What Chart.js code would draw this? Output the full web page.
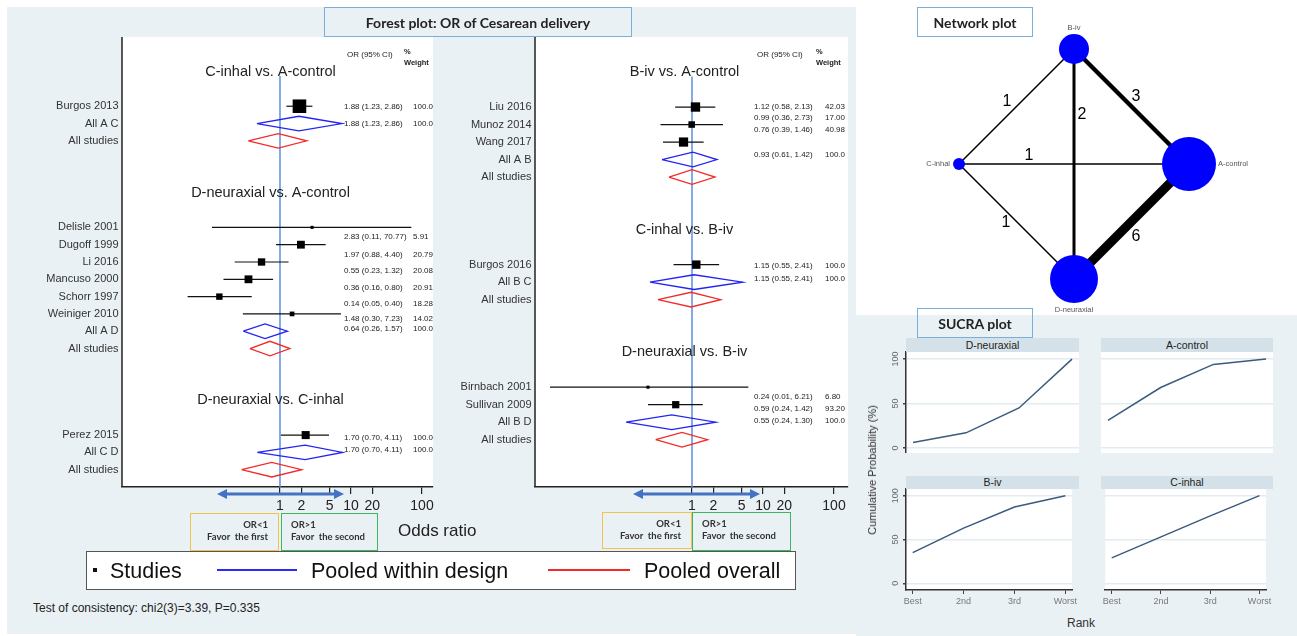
<!DOCTYPE html>
<html>
<head>
<meta charset="utf-8">
<script src="https://cdn.jsdelivr.net/npm/chart.js@4.4.1/dist/chart.umd.min.js"></script>
<style>
  body { margin: 0; width: 1297px; height: 636px; position: relative; overflow: hidden; background: #fff;
         font-family: 'Liberation Sans', Arial, sans-serif; color: #222; }
  .abs { position: absolute; }
  .bg { background: #eaf1f4; }
  .hbox { position: absolute; box-sizing: border-box; border: 1.5px solid #7aafdc; font-family: Lato, sans-serif;
          font-weight: bold; font-size: 14px; color: #222; display: flex; align-items: center; justify-content: center; }
  .favor { position: absolute; box-sizing: border-box; font-family: Lato, sans-serif; font-weight: bold;
           font-size: 9.5px; line-height: 12px; color: #333; padding-top: 5px; white-space: nowrap; }
  .first { border: 1.5px solid #f2c24e; text-align: right; padding-right: 10px; }
  .second { border: 1.5px solid #3db45f; text-align: left; padding-left: 9px; }
  .legtxt { position: absolute; font-size: 21.5px; line-height: 24px; color: #111; white-space: nowrap; }
  .strip { position: absolute; background: #d5e1e8; font-size: 10.5px; color: #222; text-align: center; }
  canvas { position: absolute; }
</style>
</head>
<body>
<div class="abs bg" style="left:7px;top:7px;width:849px;height:627px"></div>
<div class="abs bg" style="left:856px;top:315px;width:441px;height:321px"></div>

<canvas id="forestL" width="440" height="525" style="left:0;top:0"></canvas>
<canvas id="forestR" width="415" height="525" style="left:440px;top:0"></canvas>
<canvas id="network" width="438" height="309" style="left:855px;top:5px"></canvas>
<canvas id="sucra1" width="203" height="113" style="left:876px;top:340px"></canvas>
<canvas id="sucra2" width="172" height="113" style="left:1101px;top:340px"></canvas>
<canvas id="sucra3" width="203" height="133" style="left:876px;top:477px"></canvas>
<canvas id="sucra4" width="172" height="133" style="left:1101px;top:477px"></canvas>

<div class="hbox" style="left:324px;top:7px;width:308px;height:30px">Forest plot: OR of Cesarean delivery</div>
<div class="hbox" style="left:917px;top:7px;width:116px;height:30px">Network plot</div>
<div class="hbox" style="left:917px;top:308px;width:116px;height:30px">SUCRA plot</div>

<div class="favor first" style="left:190px;top:513px;width:89px;height:38px">OR&lt;1<br>Favor&nbsp; the first</div>
<div class="favor second" style="left:281px;top:513px;width:97px;height:38px">OR&gt;1<br>Favor&nbsp; the second</div>
<div class="favor first" style="left:602px;top:512px;width:90px;height:37px">OR&lt;1<br>Favor&nbsp; the first</div>
<div class="favor second" style="left:692px;top:512px;width:99px;height:39px">OR&gt;1<br>Favor&nbsp; the second</div>
<div class="abs" style="left:398px;top:521px;font-size:17px;white-space:nowrap">Odds ratio</div>

<div class="abs" style="left:86px;top:551px;width:710px;height:39px;box-sizing:border-box;border:1.5px solid #555;background:#fff"></div>
<div class="abs" style="left:93px;top:568px;width:4px;height:4px;background:#111"></div>
<div class="legtxt" style="left:110px;top:559px">Studies</div>
<div class="abs" style="left:217px;top:569px;width:80px;height:2px;background:#2b2bf5"></div>
<div class="legtxt" style="left:311px;top:559px">Pooled within design</div>
<div class="abs" style="left:548px;top:569px;width:82px;height:2px;background:#f22a2a"></div>
<div class="legtxt" style="left:644px;top:559px">Pooled overall</div>
<div class="abs" style="left:33px;top:601px;font-size:12px;white-space:nowrap;color:#222">Test of consistency: chi2(3)=3.39, P=0.335</div>

<div class="strip" style="left:906px;top:338px;width:173px;height:14px;line-height:14px">D-neuraxial</div>
<div class="strip" style="left:1101px;top:338px;width:172px;height:14px;line-height:14px">A-control</div>
<div class="strip" style="left:906px;top:476px;width:173px;height:13px;line-height:13px">B-iv</div>
<div class="strip" style="left:1101px;top:476px;width:172px;height:13px;line-height:13px">C-inhal</div>
<div class="abs" style="left:872px;top:470px;transform:translate(-50%,-50%) rotate(-90deg);font-size:11px;white-space:nowrap;color:#333">Cumulative Probability (%)</div>
<div class="abs" style="left:1081px;top:623px;transform:translate(-50%,-50%);font-size:12px;color:#333">Rank</div>

<script>
const FONT = "'Liberation Sans', Arial, sans-serif";
Chart.defaults.font.family = FONT;

// ---------- forest plot data ----------
const oddsTicks = [1, 2, 5, 10, 20, 100];

// left column
const leftTitles = ['C-inhal vs. A-control', 'D-neuraxial vs. A-control', 'D-neuraxial vs. C-inhal'];
const leftTitleRows = [2, 9, 21];
const leftStudies = ['Burgos 2013', 'Delisle 2001', 'Dugoff 1999', 'Li 2016', 'Mancuso 2000', 'Schorr 1997', 'Weiniger 2010', 'Perez 2015'];
const leftStudyRows = [4, 11, 12, 13, 14, 15, 16, 23];
const leftOR = [1.88, 2.83, 1.97, 0.55, 0.36, 0.14, 1.48, 2.3];
const leftLo = [1.23, 0.11, 0.88, 0.23, 0.16, 0.05, 0.30, 1.03];
const leftHi = [2.86, 70.77, 4.40, 1.32, 0.80, 0.40, 7.23, 4.9];
const leftCiText = ['1.88 (1.23, 2.86)', '2.83 (0.11, 70.77)', '1.97 (0.88, 4.40)', '0.55 (0.23, 1.32)',
                    '0.36 (0.16, 0.80)', '0.14 (0.05, 0.40)', '1.48 (0.30, 7.23)', '1.70 (0.70, 4.11)'];
const leftWeight = ['100.0', '5.91', '20.79', '20.08', '20.91', '18.28', '14.02', '100.0'];
const leftPoolNames = ['All A C', 'All A D', 'All C D'];
const leftPoolRows = [5, 17, 24];
const leftPoolMid = [1.85, 0.615, 2.25];
const leftPoolLo = [0.474, 0.304, 0.479];
const leftPoolHi = [7.47, 1.27, 7.62];
const leftPoolText = ['1.88 (1.23, 2.86)', '0.64 (0.26, 1.57)', '1.70 (0.70, 4.11)'];
const leftAllRows = [6, 18, 25];
const leftAllMid = [0.946, 0.723, 0.764];
const leftAllLo = [0.358, 0.378, 0.288];
const leftAllHi = [2.38, 1.38, 2.02];

// right column
const rightTitles = ['B-iv vs. A-control', 'C-inhal vs. B-iv', 'D-neuraxial vs. B-iv'];
const rightTitleRows = [2, 11, 18];
const rightStudies = ['Liu 2016', 'Munoz 2014', 'Wang 2017', 'Burgos 2016', 'Birnbach 2001', 'Sullivan 2009'];
const rightStudyRows = [4, 5, 6, 13, 20, 21];
const rightOR = [1.12, 0.99, 0.76, 1.15, 0.24, 0.59];
const rightLo = [0.58, 0.36, 0.39, 0.55, 0.01, 0.24];
const rightHi = [2.13, 2.73, 1.46, 2.41, 6.21, 1.42];
const rightCiText = ['1.12 (0.58, 2.13)', '0.99 (0.36, 2.73)', '0.76 (0.39, 1.46)', '1.15 (0.55, 2.41)',
                     '0.24 (0.01, 6.21)', '0.59 (0.24, 1.42)'];
const rightWeight = ['42.03', '17.00', '40.98', '100.0', '6.80', '93.20'];
const rightPoolNames = ['All A B', 'All B C', 'All B D'];
const rightPoolRows = [7, 14, 22];
const rightPoolMid = [1.03, 1.07, 0.518];
const rightPoolLo = [0.378, 0.256, 0.118];
const rightPoolHi = [2.25, 5.18, 2.16];
const rightPoolText = ['0.93 (0.61, 1.42)', '1.15 (0.55, 2.41)', '0.55 (0.24, 1.30)'];
const rightAllRows = [8, 15, 23];
const rightAllMid = [1.0, 0.97, 0.723];
const rightAllLo = [0.474, 0.332, 0.308];
const rightAllHi = [2.11, 2.54, 1.66];

// ---------- network data ----------
const netNodes = ['A-control', 'B-iv', 'C-inhal', 'D-neuraxial'];
const netNodeX = [1, 0, -1, 0];
const netNodeY = [0, 1, 0, -1];
const netEdgeFrom = ['B-iv', 'B-iv', 'C-inhal', 'C-inhal', 'C-inhal', 'A-control'];
const netEdgeTo = ['A-control', 'D-neuraxial', 'B-iv', 'A-control', 'D-neuraxial', 'D-neuraxial'];
const netEdgeStudies = [3, 2, 1, 1, 1, 6];

// ---------- SUCRA data ----------
const rankLabels = ['Best', '2nd', '3rd', 'Worst'];
const sucraTicks = [0, 50, 100];
const sucraDneuraxial = [6, 17, 45, 100];
const sucraAcontrol = [31, 68, 94, 100];
const sucraBiv = [35, 63, 87, 100];
const sucraCinhal = [29, 53, 77, 100];

const POOL_BLUE = '#2323f5';
const POOL_RED = '#f42a2a';
const REF_BLUE = '#5b8ee0';
const ARROW_BLUE = '#4472c4';

// ---------- forest panel ----------
function forestPanel(id, p, lay) {
  const pts = (xs, rows) => xs.map((v, i) => ({ x: v, y: rows[i] }));
  // box side from CI width (inverse SE), like Stata
  const side = p.or.map((_, i) => 10.2 / Math.log(p.hi[i] / p.lo[i]) + 1.5);
  const diamond = (lo, mid, hi, r, color) => ({
    data: [{ x: lo, y: r }, { x: mid, y: r - 0.42 }, { x: hi, y: r }, { x: mid, y: r + 0.42 }, { x: lo, y: r }],
    showLine: true, borderColor: color, borderWidth: 1.3, pointRadius: 0
  });

  const datasets = [];
  datasets.push({ data: pts(p.or, p.studyRows), pointStyle: 'rect', pointRadius: side.map(s => s / Math.SQRT2),
                  pointBackgroundColor: '#000', pointBorderWidth: 0, showLine: false });
  p.studyRows.forEach((r, i) => datasets.push({
    data: [{ x: p.lo[i], y: r }, { x: p.hi[i], y: r }], showLine: true, borderColor: '#111', borderWidth: 1.2, pointRadius: 0
  }));
  p.poolRows.forEach((r, i) => datasets.push(diamond(p.poolLo[i], p.poolMid[i], p.poolHi[i], r, POOL_BLUE)));
  p.allRows.forEach((r, i) => datasets.push(diamond(p.allLo[i], p.allMid[i], p.allHi[i], r, POOL_RED)));
  datasets.push({ data: [{ x: 1, y: 2.25 }, { x: 1, y: lay.yMax }], showLine: true, borderColor: REF_BLUE, borderWidth: 1.5, pointRadius: 0 });

  const textPlugin = {
    id: 'forestText',
    beforeDraw(chart) {
      const { ctx, chartArea: a } = chart;
      ctx.save();
      ctx.fillStyle = '#fff';
      ctx.fillRect(a.left, a.top, a.right - a.left, a.bottom - a.top);
      ctx.restore();
    },
    afterDraw(chart) {
      const { ctx, chartArea: a, scales: { x, y } } = chart;
      ctx.save();
      ctx.strokeStyle = '#222';
      ctx.lineWidth = 1.5;
      ctx.beginPath(); ctx.moveTo(a.left, a.top); ctx.lineTo(a.left, a.bottom); ctx.stroke();

      ctx.fillStyle = '#222';
      ctx.textBaseline = 'middle';
      ctx.textAlign = 'center';
      ctx.font = `14.5px ${FONT}`;
      p.titles.forEach((t, i) => ctx.fillText(t, (a.left + a.right) / 2 - 7, y.getPixelForValue(p.titleRows[i])));

      // study / pooled labels
      ctx.textAlign = 'right';
      ctx.font = `11px ${FONT}`;
      ctx.fillStyle = '#333';
      const lx = a.left - 3.5;
      p.studies.forEach((s, i) => ctx.fillText(s, lx, y.getPixelForValue(p.studyRows[i])));
      p.poolNames.forEach((s, i) => ctx.fillText(s, lx, y.getPixelForValue(p.poolRows[i])));
      p.allRows.forEach(r => ctx.fillText('All studies', lx, y.getPixelForValue(r)));

      // OR (95% CI) and weight columns
      const tx = a.right - lay.textOff, wx = a.right - lay.weightOff;
      ctx.textAlign = 'left';
      ctx.fillStyle = '#222';
      ctx.font = `8px ${FONT}`;
      p.ciText.forEach((t, i) => ctx.fillText(t, tx, y.getPixelForValue(lay.ciRows[i])));
      p.weight.forEach((t, i) => ctx.fillText(t, wx, y.getPixelForValue(lay.ciRows[i])));
      p.poolText.forEach((t, i) => {
        const py = y.getPixelForValue(lay.poolTextRows[i]);
        ctx.fillText(t, tx, py);
        ctx.fillText('100.0', wx, py);
      });
      ctx.fillText('OR (95% CI)', tx + 3, a.top + 18);
      ctx.font = `bold 7.5px ${FONT}`;
      ctx.fillText('%', wx - 9, a.top + 15);
      ctx.fillText('Weight', wx - 9, a.top + 26);

      // double arrow under the axis
      const x1 = x.getPixelForValue(1);
      const ay = a.bottom + 7;
      const l = x1 + lay.arrow[0], r = x1 + lay.arrow[1];
      ctx.strokeStyle = ARROW_BLUE;
      ctx.fillStyle = ARROW_BLUE;
      ctx.lineWidth = 3;
      ctx.beginPath(); ctx.moveTo(l + 6, ay); ctx.lineTo(r - 6, ay); ctx.stroke();
      ctx.beginPath(); ctx.moveTo(l, ay); ctx.lineTo(l + 10, ay - 5); ctx.lineTo(l + 10, ay + 5); ctx.closePath(); ctx.fill();
      ctx.beginPath(); ctx.moveTo(r, ay); ctx.lineTo(r - 10, ay - 5); ctx.lineTo(r - 10, ay + 5); ctx.closePath(); ctx.fill();
      ctx.restore();
    }
  };

  new Chart(document.getElementById(id), {
    type: 'scatter',
    data: { datasets },
    options: {
      responsive: false,
      animation: false,
      events: [],
      layout: { autoPadding: false, padding: { left: lay.padLeft, right: lay.padRight, top: 37, bottom: 0 } },
      plugins: { legend: { display: false }, tooltip: { enabled: false } },
      scales: {
        x: {
          type: 'logarithmic', min: lay.xMin, max: lay.xMax,
          afterBuildTicks: axis => { axis.ticks = oddsTicks.map(v => ({ value: v })); },
          afterFit: axis => { axis.height = 38; },
          grid: { display: true, drawOnChartArea: false, drawTicks: true, tickLength: 7, color: '#222', lineWidth: 1.2 },
          border: { display: true, color: '#222', width: 1.5 },
          ticks: { color: '#222', font: { size: 14 }, padding: 4, autoSkip: false, maxRotation: 0, callback: v => String(v) }
        },
        y: { type: 'linear', reverse: true, min: 0, max: lay.yMax, display: false }
      }
    },
    plugins: [textPlugin]
  });
}

forestPanel('forestL', {
  titles: leftTitles, titleRows: leftTitleRows, studies: leftStudies, studyRows: leftStudyRows,
  or: leftOR, lo: leftLo, hi: leftHi, ciText: leftCiText, weight: leftWeight,
  poolNames: leftPoolNames, poolRows: leftPoolRows, poolMid: leftPoolMid, poolLo: leftPoolLo, poolHi: leftPoolHi, poolText: leftPoolText,
  allRows: leftAllRows, allMid: leftAllMid, allLo: leftAllLo, allHi: leftAllHi
}, {
  padLeft: 122, padRight: 7, xMin: 0.005955, xMax: 142.9, yMax: 26,
  textOff: 89, weightOff: 20, arrow: [-63, 64],
  ciRows: [4.03, 11.57, 12.56, 13.49, 14.47, 15.4, 16.27, 23.17],
  poolTextRows: [5.02, 16.85, 23.87]
});

forestPanel('forestR', {
  titles: rightTitles, titleRows: rightTitleRows, studies: rightStudies, studyRows: rightStudyRows,
  or: rightOR, lo: rightLo, hi: rightHi, ciText: rightCiText, weight: rightWeight,
  poolNames: rightPoolNames, poolRows: rightPoolRows, poolMid: rightPoolMid, poolLo: rightPoolLo, poolHi: rightPoolHi, poolText: rightPoolText,
  allRows: rightAllRows, allMid: rightAllMid, allLo: rightAllLo, allHi: rightAllHi
}, {
  padLeft: 95, padRight: 7, xMin: 0.00615, xMax: 157.5, yMax: 25.7,
  textOff: 94, weightOff: 23, arrow: [-59, 68],
  ciRows: [4.0, 4.63, 5.31, 13.07, 20.57, 21.26],
  poolTextRows: [6.74, 13.83, 21.93]
});

// ---------- network plot ----------
(function () {
  const idx = name => netNodes.indexOf(name);
  const nodeStudies = netNodes.map(n => netEdgeStudies.reduce((s, c, i) =>
    s + ((netEdgeFrom[i] === n || netEdgeTo[i] === n) ? c : 0), 0));
  const datasets = [{
    data: netNodes.map((_, i) => ({ x: netNodeX[i], y: netNodeY[i] })),
    pointRadius: nodeStudies.map(n => 3 * n - 3), pointBackgroundColor: '#0000ff', pointBorderWidth: 0, showLine: false
  }];
  netEdgeFrom.forEach((f, i) => {
    const a = idx(f), b = idx(netEdgeTo[i]);
    datasets.push({ data: [{ x: netNodeX[a], y: netNodeY[a] }, { x: netNodeX[b], y: netNodeY[b] }],
                    showLine: true, borderColor: '#000', borderWidth: 1.5 * netEdgeStudies[i], pointRadius: 0 });
  });
  // where each edge count sits: fraction along the edge, pixel nudge
  const edgeLabelAt = [[0.5, 4.5, -10], [0.287, 8, 0], [0.5, -9.5, -5], [0.304, 0, -8], [0.5, -10.5, 1], [0.5, 4.5, 15]];
  const nodeLabelSide = ['right', 'above', 'left', 'below'];

  new Chart(document.getElementById('network'), {
    type: 'scatter',
    data: { datasets },
    options: {
      responsive: false, animation: false, events: [],
      layout: { autoPadding: false, padding: 0 },
      plugins: { legend: { display: false }, tooltip: { enabled: false } },
      scales: {
        x: { type: 'linear', min: -1.9043, max: 1.9043, display: false },
        y: { type: 'linear', min: -1.3043, max: 1.3826, display: false }
      }
    },
    plugins: [{
      id: 'netText',
      afterDraw(chart) {
        const { ctx, scales: { x, y } } = chart;
        ctx.save();
        ctx.fillStyle = '#000';
        ctx.textAlign = 'center';
        ctx.textBaseline = 'middle';
        ctx.font = `16px ${FONT}`;
        netEdgeFrom.forEach((f, i) => {
          const a = idx(f), b = idx(netEdgeTo[i]);
          const [t, dx, dy] = edgeLabelAt[i];
          const ax = x.getPixelForValue(netNodeX[a]), ay = y.getPixelForValue(netNodeY[a]);
          const bx = x.getPixelForValue(netNodeX[b]), by = y.getPixelForValue(netNodeY[b]);
          ctx.fillText(String(netEdgeStudies[i]), ax + (bx - ax) * t + dx, ay + (by - ay) * t + dy);
        });
        ctx.font = `7.5px ${FONT}`;
        ctx.fillStyle = '#555';
        netNodes.forEach((n, i) => {
          const px = x.getPixelForValue(netNodeX[i]), py = y.getPixelForValue(netNodeY[i]);
          const r = 3 * nodeStudies[i] - 3;
          const side = nodeLabelSide[i];
          if (side === 'right') { ctx.textAlign = 'left'; ctx.fillText(n, px + r + 2, py); }
          else if (side === 'left') { ctx.textAlign = 'right'; ctx.fillText(n, px - r - 3, py); }
          else if (side === 'above') { ctx.textAlign = 'center'; ctx.fillText(n, px, py - r - 6); }
          else { ctx.textAlign = 'center'; ctx.fillText(n, px, py + r + 7); }
        });
        ctx.restore();
      }
    }]
  });
})();

// ---------- SUCRA panels ----------
function sucraPanel(id, values, showY, showX, yMin, yMax) {
  new Chart(document.getElementById(id), {
    type: 'line',
    data: { datasets: [{ data: values.map((v, i) => ({ x: i + 1, y: v })), borderColor: '#3b5a7d',
                         borderWidth: 1.5, pointRadius: 0, tension: 0 }] },
    options: {
      responsive: false, animation: false, events: [],
      layout: { autoPadding: false, padding: { top: 12, left: 0, right: 0, bottom: 0 } },
      plugins: { legend: { display: false }, tooltip: { enabled: false } },
      scales: {
        x: {
          type: 'linear', min: 1 - 7 / 53, max: 4 + 7 / 53, display: showX,
          afterBuildTicks: axis => { axis.ticks = rankLabels.map((_, i) => ({ value: i + 1 })); },
          afterFit: axis => { axis.height = showX ? 20 : 0; },
          grid: { drawOnChartArea: false, drawTicks: true, tickLength: 4, color: '#444' },
          border: { display: true, color: '#333', width: 1.5 },
          ticks: { color: '#777', font: { size: 9 }, padding: 2, autoSkip: false, maxRotation: 0,
                   callback: v => rankLabels[v - 1] }
        },
        y: {
          type: 'linear', min: yMin, max: yMax,
          afterBuildTicks: axis => { axis.ticks = sucraTicks.map(v => ({ value: v })); },
          afterFit: axis => { axis.width = showY ? 30 : 0; },
          grid: { color: '#e2ebf0', lineWidth: 1.5, drawTicks: showY, tickLength: 3, tickColor: '#444' },
          border: { display: showY, color: '#333', width: 1.5 },
          ticks: { display: false }
        }
      }
    },
    plugins: [{
      id: 'sucraBg',
      beforeDraw(chart) {
        const { ctx, chartArea: a } = chart;
        ctx.save();
        ctx.fillStyle = '#fff';
        ctx.fillRect(a.left, a.top, a.right - a.left, a.bottom - a.top);
        ctx.restore();
      },
      afterDraw(chart) {
        if (!showY) return;
        const { ctx, chartArea: a, scales: { y } } = chart;
        ctx.save();
        ctx.font = `9px ${FONT}`;
        ctx.fillStyle = '#666';
        ctx.textAlign = 'center';
        ctx.textBaseline = 'middle';
        sucraTicks.forEach(v => {
          ctx.save();
          ctx.translate(a.left - 10, y.getPixelForValue(v));
          ctx.rotate(-Math.PI / 2);
          ctx.fillText(String(v), 0, 0);
          ctx.restore();
        });
        ctx.restore();
      }
    }]
  });
}

sucraPanel('sucra1', sucraDneuraxial, true, false, -5.7, 108);
sucraPanel('sucra2', sucraAcontrol, false, false, -5.7, 108);
sucraPanel('sucra3', sucraBiv, true, true, -7.6, 107.6);
sucraPanel('sucra4', sucraCinhal, false, true, -7.6, 107.6);
</script>
</body>
</html>
